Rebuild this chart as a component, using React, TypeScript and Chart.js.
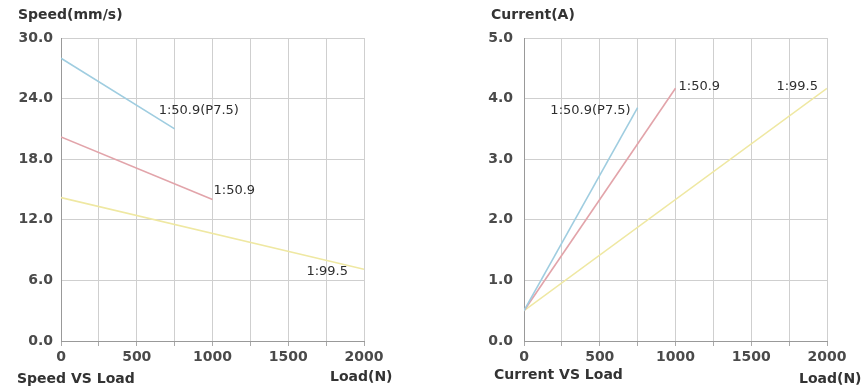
import React, { useEffect, useRef } from "react";
import { Chart, registerables } from "chart.js";

Chart.register(...registerables);

// ---------- data ----------
const speedBlueLoad = [0, 750];
const speedBlueValue = [28.0, 21.0];
const speedRedLoad = [0, 1000];
const speedRedValue = [20.2, 14.0];
const speedYellowLoad = [0, 2000];
const speedYellowValue = [14.2, 7.1];

const currentBlueLoad = [0, 750];
const currentBlueValue = [0.5, 3.85];
const currentRedLoad = [0, 1000];
const currentRedValue = [0.5, 4.17];
const currentYellowLoad = [0, 2000];
const currentYellowValue = [0.5, 4.17];

const seriesNames = ["1:50.9(P7.5)", "1:50.9", "1:99.5"];
const seriesColors = ["#9fcde0", "#e2a4aa", "#efe8a2"];

const speedTitle = "Speed(mm/s)";
const speedCaption = "Speed VS Load";
const currentTitle = "Current(A)";
const currentCaption = "Current VS Load";
const xTitle = "Load(N)";

// ---------- helpers ----------
const pts = (xs: number[], ys: number[]) => xs.map((x, i) => ({ x, y: ys[i] }));

type LabelStyle = { dx: number; dy: number; align: CanvasTextAlign };
type TextPos = { x: number; y: number };

interface ChartSpec {
  series: { x: number; y: number }[][];
  yMax: number;
  yStep: number;
  yAxisWidth: number;
  yPad: number;
  rightPad: number;
  labels: LabelStyle[];
  title: string;
  caption: string;
  titlePos: TextPos;
  captionPos: TextPos;
  xTitlePos: TextPos;
}

const FONT = "'DejaVu Sans', 'Liberation Sans', sans-serif";

function makeChart(canvas: HTMLCanvasElement, spec: ChartSpec) {
  const textPlugin = {
    id: "textPlugin",
    afterDatasetsDraw(chart: any) {
      const ctx = chart.ctx as CanvasRenderingContext2D;
      ctx.save();
      // line labels
      ctx.font = `13px ${FONT}`;
      ctx.fillStyle = "#2e2e2e";
      ctx.textBaseline = "middle";
      spec.series.forEach((s, i) => {
        const last = s[s.length - 1];
        const px = chart.scales.x.getPixelForValue(last.x);
        const py = chart.scales.y.getPixelForValue(last.y);
        const st = spec.labels[i];
        ctx.textAlign = st.align;
        ctx.fillText(seriesNames[i], px + st.dx, py + st.dy);
      });
      // titles
      ctx.font = `bold 14px ${FONT}`;
      ctx.fillStyle = "#333";
      ctx.textBaseline = "alphabetic";
      ctx.textAlign = "left";
      ctx.fillText(spec.title, spec.titlePos.x, spec.titlePos.y);
      ctx.fillText(spec.caption, spec.captionPos.x, spec.captionPos.y);
      ctx.fillText(xTitle, spec.xTitlePos.x, spec.xTitlePos.y);
      ctx.restore();
    },
  };

  return new Chart(canvas, {
    type: "line",
    data: {
      datasets: spec.series.map((s, i) => ({
        label: seriesNames[i],
        data: s,
        borderColor: seriesColors[i],
        backgroundColor: seriesColors[i],
        borderWidth: 1.6,
        pointRadius: 0,
        tension: 0,
        fill: false,
      })),
    },
    options: {
      animation: false,
      responsive: false,
      maintainAspectRatio: false,
      layout: { padding: { top: 38, right: spec.rightPad, bottom: 0, left: 0 } },
      plugins: {
        legend: { display: false },
        tooltip: { enabled: false },
        title: { display: false },
      },
      scales: {
        x: {
          type: "linear",
          min: 0,
          max: 2000,
          afterFit: (s: any) => {
            s.height = 51;
          },
          ticks: {
            stepSize: 250,
            autoSkip: false,
            maxRotation: 0,
            padding: 3,
            color: "#4a4a4a",
            font: { family: FONT, size: 14, weight: "bold" },
            callback: (v: any) => (Number(v) % 500 === 0 ? String(v) : ""),
          },
          grid: {
            color: "#cfcfcf",
            lineWidth: 1,
            drawTicks: true,
            tickLength: 5,
            tickColor: "#aaa",
          },
          border: { color: "#999", width: 1 },
        },
        y: {
          type: "linear",
          min: 0,
          max: spec.yMax,
          afterFit: (s: any) => {
            s.width = spec.yAxisWidth;
          },
          ticks: {
            stepSize: spec.yStep,
            padding: spec.yPad,
            color: "#4a4a4a",
            font: { family: FONT, size: 14, weight: "bold" },
            callback: (v: any) => Number(v).toFixed(1),
          },
          grid: { color: "#cfcfcf", lineWidth: 1, drawTicks: false },
          border: { color: "#999", width: 1 },
        },
      },
    } as any,
    plugins: [textPlugin],
  });
}

function ChartBox({ spec, left, width }: { spec: ChartSpec; left: number; width: number }) {
  const ref = useRef<HTMLCanvasElement | null>(null);
  useEffect(() => {
    if (!ref.current) return;
    const c = makeChart(ref.current, spec);
    return () => c.destroy();
  }, []);
  return (
    <canvas
      ref={ref}
      width={width}
      height={392}
      style={{ position: "absolute", left, top: 0, width, height: 392 }}
    />
  );
}

const speedSpec: ChartSpec = {
  series: [
    pts(speedBlueLoad, speedBlueValue),
    pts(speedRedLoad, speedRedValue),
    pts(speedYellowLoad, speedYellowValue),
  ],
  yMax: 30,
  yStep: 6,
  yAxisWidth: 61,
  yPad: 8,
  rightPad: 69,
  labels: [
    { dx: -16, dy: -18, align: "left" },
    { dx: 1, dy: -9, align: "left" },
    { dx: -16, dy: 2, align: "right" },
  ],
  title: speedTitle,
  caption: speedCaption,
  titlePos: { x: 18, y: 19 },
  captionPos: { x: 17, y: 383 },
  xTitlePos: { x: 330, y: 381 },
};

const currentSpec: ChartSpec = {
  series: [
    pts(currentBlueLoad, currentBlueValue),
    pts(currentRedLoad, currentRedValue),
    pts(currentYellowLoad, currentYellowValue),
  ],
  yMax: 5,
  yStep: 1,
  yAxisWidth: 91,
  yPad: 11,
  rightPad: 40,
  labels: [
    { dx: -7, dy: 3, align: "right" },
    { dx: 3, dy: -2, align: "left" },
    { dx: -9, dy: -2, align: "right" },
  ],
  title: currentTitle,
  caption: currentCaption,
  titlePos: { x: 58, y: 19 },
  captionPos: { x: 61, y: 379 },
  xTitlePos: { x: 366, y: 383 },
};

export default function App() {
  return (
    <div
      style={{
        position: "fixed",
        left: 0,
        top: 0,
        width: 867,
        height: 392,
        background: "#fff",
        overflow: "hidden",
      }}
    >
      <ChartBox spec={speedSpec} left={0} width={433} />
      <ChartBox spec={currentSpec} left={433} width={434} />
    </div>
  );
}
